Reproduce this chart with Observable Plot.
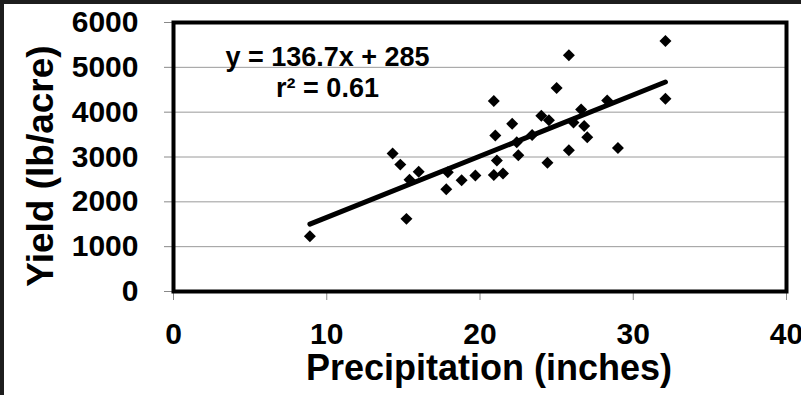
<!DOCTYPE html>
<html>
<head>
<meta charset="utf-8">
<script src="https://cdn.jsdelivr.net/npm/d3@7"></script>
<script src="https://cdn.jsdelivr.net/npm/@observablehq/plot@0.6"></script>
<style>
  html, body { margin: 0; padding: 0; background: #1d1d1d; overflow: hidden; width: 801px; height: 395px; }
  #chart { padding: 4px 0 0 4px; }
  #chart svg { display: block; }
</style>
</head>
<body>
<div id="chart"></div>
<script>
// Data
const precipitation = [8.9, 14.3, 14.8, 15.4, 15.2, 16.0, 17.9, 17.8, 18.8, 19.7, 20.9, 21.5, 21.1, 22.5, 21.0, 20.9, 22.1, 22.4, 23.4, 24.0, 24.5, 24.4, 25.0, 25.8, 25.8, 26.1, 26.6, 26.8, 27.0, 28.3, 29.0, 32.1, 32.1];
const yieldValues   = [1230, 3080, 2830, 2490, 1620, 2670, 2660, 2280, 2480, 2590, 2600, 2630, 2920, 3040, 3480, 4250, 3740, 3330, 3490, 3920, 3820, 2870, 4540, 5270, 3150, 3770, 4060, 3690, 3440, 4260, 3200, 5590, 4300];
const xTicks = [0, 10, 20, 30, 40];
const yTicks = [0, 1000, 2000, 3000, 4000, 5000, 6000];
const slope = 136.7;
const intercept = 285;
const equationLabel = "y = 136.7x + 285";
const r2Label = "r\u00b2 = 0.61";
const xTitle = "Precipitation (inches)";
const yTitle = "Yield (lb/acre)";

const points = precipitation.map((x, i) => ({x, y: yieldValues[i]}));
const xExtent = d3.extent(precipitation);
const trend = xExtent.map(x => ({x, y: slope * x + intercept}));

const font = "'Liberation Sans', Arial, sans-serif";
const plain = d3.format("d");

const chart = Plot.plot({
  width: 797,
  height: 391,
  marginLeft: 169,
  marginRight: 15,
  marginTop: 18,
  marginBottom: 104,
  style: {background: "white", fontFamily: font, color: "black"},
  x: {domain: [0, 40]},
  y: {domain: [0, 6000]},
  marks: [
    Plot.gridY(yTicks, {stroke: "#9a9a9a", strokeOpacity: 1, strokeWidth: 1}),
    Plot.axisX(xTicks, {tickSize: 9, tickPadding: 22, tickFormat: plain, fontSize: 30, fontWeight: "bold", stroke: "#888", fill: "black", label: null}),
    Plot.axisY(yTicks, {tickSize: 9, tickPadding: 26, tickFormat: plain, fontSize: 30, fontWeight: "bold", stroke: "#888", fill: "black", label: null}),
    Plot.text([xTitle], {frameAnchor: "bottom", dy: 88, dx: 9, lineAnchor: "bottom", fontSize: 36, fontWeight: "bold", fill: "black"}),
    Plot.text([yTitle], {frameAnchor: "left", rotate: -90, dx: -147, dy: 9, lineAnchor: "top", textAnchor: "middle", fontSize: 37, fontWeight: "bold", fill: "black"}),
    Plot.frame({stroke: "black", strokeWidth: 4}),
    Plot.line(trend, {x: "x", y: "y", stroke: "black", strokeWidth: 5, strokeLinecap: "round"}),
    Plot.dot(points, {x: "x", y: "y", symbol: "diamond2", r: 5.4, fill: "black", stroke: null}),
    Plot.text([equationLabel + "\n" + r2Label], {frameAnchor: "top-left", dx: 154, dy: 21, lineAnchor: "top", textAnchor: "middle", fontSize: 27, fontWeight: "bold", lineHeight: 1.15, fill: "black"})
  ]
});
document.getElementById("chart").appendChild(chart);
</script>
</body>
</html>
